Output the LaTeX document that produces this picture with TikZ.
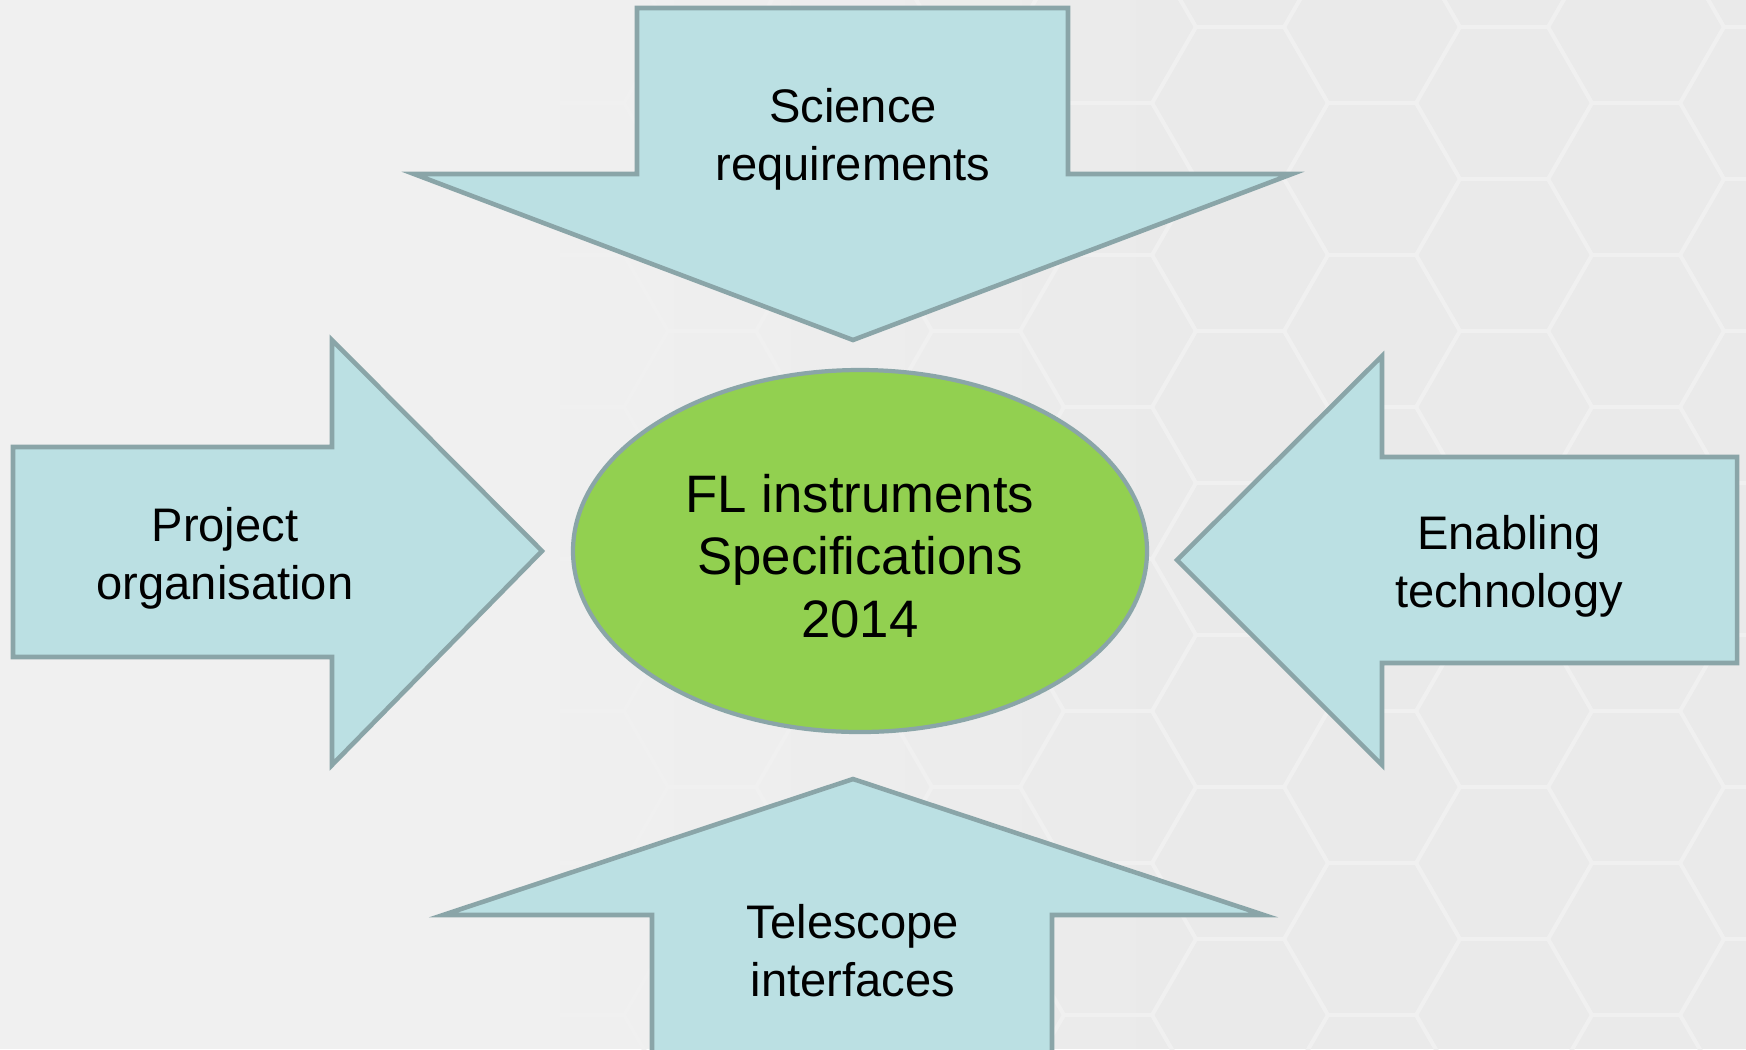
\documentclass[tikz,border=0pt]{standalone}
\usepackage{fontspec}
\setmainfont{Liberation Sans}
\usetikzlibrary{shapes.geometric,fadings}

\definecolor{bgcol}{HTML}{F0F0F0}
\definecolor{hexcol}{HTML}{EAEAEA}
\definecolor{hexline}{HTML}{F0F0F0}
\definecolor{arrowfill}{HTML}{BBE0E3}
\definecolor{arrowline}{HTML}{8AA5A8}
\definecolor{specgreen}{HTML}{92D050}

\tikzfading[name=hexcover, left color=transparent!0, right color=transparent!100]

\tikzset{
	bigarrow/.style={fill=arrowfill, draw=arrowline, line width=1.3pt, line join=miter},
	arrowtext/.style={align=center, font=\fontsize{13.4}{16.5}\selectfont},
	specnode/.style={ellipse, fill=specgreen, draw=arrowline, line width=1.2pt,
		minimum width=57.4mm, minimum height=36.2mm, inner sep=0pt},
	spectext/.style={align=center, font=\fontsize{15}{17.8}\selectfont}
}

\begin{document}
\begin{tikzpicture}[x=0.1mm, y=-0.1mm]
			%%%%% START %%%%%
			\useasboundingbox (0, 0) rectangle (1746, 1049);
			\clip (0, 0) rectangle (1746, 1049);
			\fill[bgcol] (0, 0) rectangle (1746, 1049);
			
			% honeycomb on the right
			\begin{scope}
				\clip (560, 0) rectangle (1746, 1049);
				\fill[hexcol] (560, 0) rectangle (1746, 1049);
				\foreach \i in {-6,...,3} {
					\pgfmathsetmacro\hx{1372+132*\i}
					\pgfmathsetmacro\hy{179-76*mod(\i+6,2)}
					\foreach \j in {-1,...,6} {
						\draw[hexline, line width=1.1pt] (\hx, \hy+152*\j) +(0:88) -- +(60:88) -- +(120:88) -- +(180:88) -- +(240:88) -- +(300:88) -- cycle;
					}
				}
			\end{scope}
			\fill[bgcol, path fading=hexcover] (559, 0) rectangle (1250, 1049);
			
			% arrows
			\draw[bigarrow] (637, 8) -- (1068, 8) -- (1068, 174) -- (1292, 174) -- (853, 340) -- (414, 174) -- (637, 174) -- cycle;
			\draw[bigarrow] (13, 447) -- (332, 447) -- (332, 340) -- (542, 551) -- (332, 765) -- (332, 657) -- (13, 657) -- cycle;
			\draw[bigarrow] (1737, 457) -- (1382, 457) -- (1382, 356) -- (1177, 560) -- (1382, 765) -- (1382, 663) -- (1737, 663) -- cycle;
			\draw[bigarrow] (652, 1070) -- (652, 915) -- (443, 915) -- (853, 779) -- (1264, 915) -- (1052, 915) -- (1052, 1070) -- cycle;
			
			\node[arrowtext] (science) at (853, 139) {Science\\requirements};
			\node[arrowtext] (project) at (225, 558) {Project\\organisation};
			\node[arrowtext] (enabling) at (1509, 566) {Enabling\\technology};
			\node[arrowtext] (telescope) at (853, 951) {Telescope\\interfaces};
			
			\node[specnode] (spec) at (860, 551) {};
			\node[spectext] (spectitle) at (860, 556) {FL instruments\\Specifications\\2014};
			%%%%% END %%%%%
\end{tikzpicture}
\end{document}
